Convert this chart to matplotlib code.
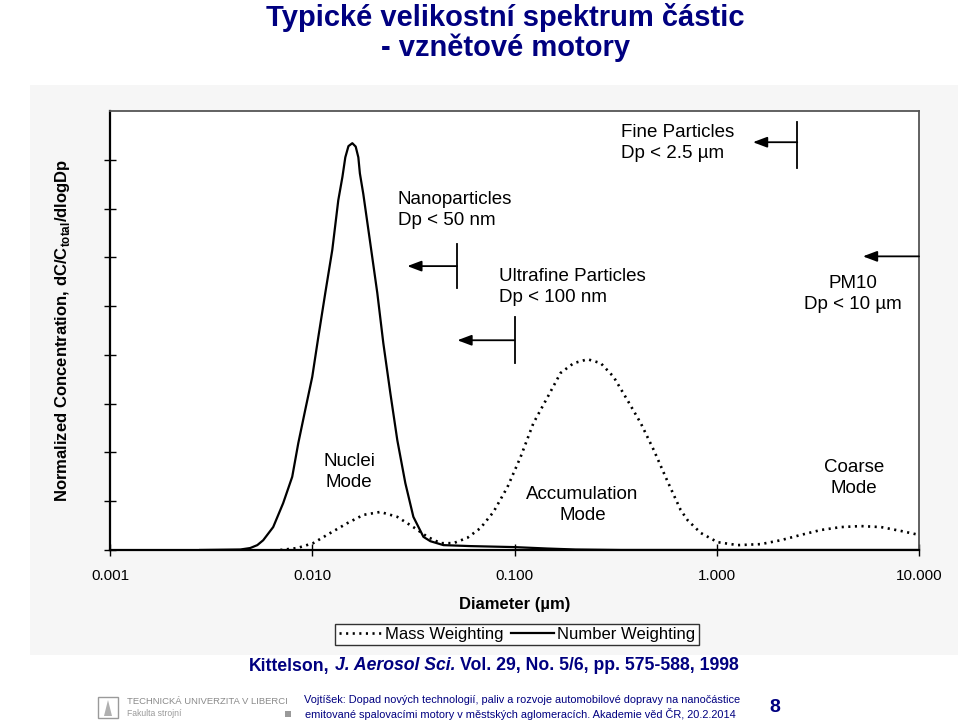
import matplotlib.pyplot as plt
from matplotlib.patches import Rectangle, Polygon
from matplotlib.lines import Line2D

plt.rcParams['font.family'] = ['Liberation Sans', 'DejaVu Sans']
plt.rcParams['mathtext.fontset'] = 'custom'
plt.rcParams['mathtext.bf'] = 'Liberation Sans:bold'
plt.rcParams['mathtext.rm'] = 'Liberation Sans:bold'

NAVY = '#000080'

# number weighting (solid line)
number_dp = [0.00279, 0.00441, 0.00493, 0.00535, 0.00572, 0.00641, 0.00718,
             0.00796, 0.00853, 0.00923, 0.0100, 0.01071, 0.0116, 0.01256,
             0.01345, 0.0141, 0.01457, 0.0151, 0.01578, 0.0164, 0.0169,
             0.0172, 0.01788, 0.01936, 0.02097,
             0.02246, 0.02432, 0.02634, 0.02886, 0.03162, 0.03545, 0.03839,
             0.04453, 0.06053, 0.0989, 0.1456, 0.2004, 0.335, 10.0]
number_conc = [0.0, 0.01, 0.04, 0.10, 0.20, 0.47, 0.96,
               1.50, 2.19, 2.87, 3.55, 4.36, 5.27, 6.15,
               7.17, 7.65, 8.05, 8.28, 8.34, 8.27, 8.05,
               7.72, 7.30, 6.29, 5.27,
               4.24, 3.22, 2.25, 1.37, 0.68, 0.27, 0.18,
               0.10, 0.08, 0.06, 0.03, 0.01, 0.0, 0.0]

# mass weighting (dotted line)
mass_dp = [0.00695, 0.00843, 0.0101, 0.0123, 0.0149, 0.0179, 0.0217, 0.0263,
           0.0316, 0.0371, 0.0431, 0.0499, 0.0585, 0.0679, 0.0787, 0.0923,
           0.107, 0.124, 0.146, 0.169, 0.196, 0.230, 0.267, 0.309, 0.362,
           0.421, 0.488, 0.572, 0.663, 0.718, 0.833, 1.01, 1.27, 1.65, 2.07,
           2.61, 3.27, 4.11, 5.16, 6.49, 8.15, 10.0]
mass_conc = [0.0, 0.04, 0.14, 0.35, 0.55, 0.72, 0.78, 0.68,
             0.47, 0.27, 0.14, 0.14, 0.25, 0.45, 0.78, 1.29,
             1.90, 2.60, 3.14, 3.63, 3.83, 3.91, 3.83, 3.55, 3.07,
             2.60, 2.05, 1.40, 0.82, 0.61, 0.35, 0.16, 0.10, 0.12, 0.20,
             0.31, 0.41, 0.47, 0.49, 0.47, 0.39, 0.31]

x_ticks = [0.001, 0.01, 0.1, 1.0, 10.0]
x_tick_labels = ['0.001', '0.010', '0.100', '1.000', '10.000']
y_ticks = [0, 1, 2, 3, 4, 5, 6, 7, 8]

W, H = 960, 726


def fx(px):
    return px / W


def fy(py):
    return 1 - py / H


fig = plt.figure(figsize=(9.6, 7.26), dpi=100)
fig.patch.set_facecolor('white')

# light grey scanned area (behind the axes)
fig.patches.append(Rectangle((fx(30), fy(655)), fx(958) - fx(30), fy(85) - fy(655),
                             transform=fig.transFigure, facecolor='#f6f6f6',
                             edgecolor='none', zorder=-5))

ax = fig.add_axes([fx(110), fy(550), fx(919) - fx(110), fy(111) - fy(550)])
ax.set_zorder(2)
ax.set_facecolor('white')

ax.plot(mass_dp, mass_conc, color='k', lw=1.9, linestyle=(0, (0.8, 1.7)),
        dash_capstyle='butt', label='Mass Weighting')
ax.plot(number_dp, number_conc, color='k', lw=1.6, label='Number Weighting')

ax.set_xscale('log')
ax.set_xlim(0.001, 10)
ax.set_ylim(0, 9)
ax.set_xticks(x_ticks)
ax.set_xticklabels(x_tick_labels)
ax.minorticks_off()
ax.set_yticks(y_ticks)
ax.set_yticklabels([])
ax.tick_params(axis='x', direction='inout', length=9, width=1.0, pad=9,
               labelsize=11)
ax.tick_params(axis='y', direction='inout', length=8, width=1.0)

for side in ['left', 'bottom']:
    ax.spines[side].set_linewidth(1.6)
    ax.spines[side].set_color('k')
for side in ['top', 'right']:
    ax.spines[side].set_linewidth(1.3)
    ax.spines[side].set_color('#555555')

# size class markers
arrow = dict(arrowstyle='-|>,head_length=0.85,head_width=0.32', color='k',
             lw=1.3, shrinkA=0, shrinkB=0, mutation_scale=10)
ax.plot([2.5, 2.5], [7.83, 8.77], color='k', lw=1.3)
ax.annotate('', xy=(1.51, 8.36), xytext=(2.5, 8.36), arrowprops=arrow)
ax.annotate('', xy=(5.28, 6.02), xytext=(10.0, 6.02), arrowprops=arrow)
ax.plot([0.052, 0.052], [5.37, 6.27], color='k', lw=1.3)
ax.annotate('', xy=(0.0295, 5.82), xytext=(0.052, 5.82), arrowprops=arrow)
ax.plot([0.1, 0.1], [3.83, 4.77], color='k', lw=1.3)
ax.annotate('', xy=(0.0522, 4.30), xytext=(0.1, 4.30), arrowprops=arrow)

lab = dict(fontsize=13.5, va='center', linespacing=1.3)
ax.text(0.335, 8.35, 'Fine Particles\nDp < 2.5 µm', ha='left', **lab)
ax.text(0.0264, 6.97, 'Nanoparticles\nDp < 50 nm', ha='left', **lab)
ax.text(0.0834, 5.39, 'Ultrafine Particles\nDp < 100 nm', ha='left', **lab)
ax.text(4.71, 5.24, 'PM10\nDp < 10 µm', ha='center', multialignment='center', **lab)
ax.text(0.01524, 1.59, 'Nuclei\nMode', ha='center', multialignment='center', **lab)
ax.text(0.217, 0.92, 'Accumulation\nMode', ha='center', multialignment='center', **lab)
ax.text(4.76, 1.48, 'Coarse\nMode', ha='center', multialignment='center', **lab)

fig.text(fx(515), fy(604), 'Diameter (µm)', ha='center', va='center',
         fontsize=12, fontweight='bold')
fig.text(fx(63), fy(330), r'Normalized Concentration, dC/C$_{\mathbf{total}}$/dlogDp',
         ha='center', va='center', rotation=90, fontsize=12, fontweight='bold')

handles = [Line2D([], [], color='k', lw=1.9, linestyle=(0, (0.8, 1.7))),
           Line2D([], [], color='k', lw=1.6)]
leg = fig.legend(handles, ['Mass Weighting', 'Number Weighting'], ncol=2,
                 loc='center', bbox_to_anchor=(fx(517), fy(634.5)),
                 fontsize=12, frameon=True, fancybox=False, handlelength=2.6,
                 handletextpad=0.2, columnspacing=0.4, borderpad=0.2,
                 borderaxespad=0)
leg.get_frame().set_edgecolor('k')
leg.get_frame().set_linewidth(1.0)

# slide title
fig.text(fx(505), fy(17), 'Typické velikostní spektrum částic', ha='center',
         va='center', fontsize=21, fontweight='bold', color=NAVY)
fig.text(fx(506), fy(48), '- vznětové motory', ha='center', va='center',
         fontsize=21, fontweight='bold', color=NAVY)

# citation line, pieces chained left to right
renderer = fig.canvas.get_renderer()
x = fx(249)
for s, style, gap in [('Kittelson,', 'normal', 5), ('J. Aerosol Sci.', 'italic', 5),
                      ('Vol. 29, No. 5/6, pp. 575-588, 1998', 'normal', 0)]:
    t = fig.text(x, fy(666), s, ha='left', va='center', fontsize=12.7,
                 fontweight='bold', style=style, color=NAVY)
    bb = t.get_window_extent(renderer=renderer)
    x += (bb.width + gap) / W

# footer
fig.text(fx(522), fy(700), 'Vojtíšek: Dopad nových technologií, paliv a rozvoje '
         'automobilové dopravy na nanočástice', ha='center', va='center',
         fontsize=7.9, color=NAVY)
fig.text(fx(520), fy(714), 'emitované spalovacími motory v městských aglomeracích. '
         'Akademie věd ČR, 20.2.2014', ha='center', va='center',
         fontsize=7.9, color=NAVY)
fig.text(fx(775), fy(707), '8', ha='center', va='center', fontsize=14,
         fontweight='bold', color=NAVY)

fig.text(fx(127), fy(702), 'TECHNICKÁ UNIVERZITA V LIBERCI', ha='left', va='center',
         fontsize=6.8, color='#8a8a8a')
fig.text(fx(127), fy(714), 'Fakulta strojní', ha='left', va='center',
         fontsize=6.2, color='#9a9a9a')
fig.patches.append(Rectangle((fx(98), fy(718)), 20 / W, 21 / H, transform=fig.transFigure,
                             facecolor='none', edgecolor='#9a9a9a', lw=1.0))
fig.patches.append(Polygon([(fx(104), fy(716)), (fx(108), fy(700)), (fx(112), fy(716))],
                           closed=True, transform=fig.transFigure,
                           facecolor='#b0b0b0', edgecolor='none'))
fig.patches.append(Rectangle((fx(285), fy(717)), 6 / W, 6 / H, transform=fig.transFigure,
                             facecolor='#9a9a9a', edgecolor='none'))

fig.savefig('out.png', dpi=100)
